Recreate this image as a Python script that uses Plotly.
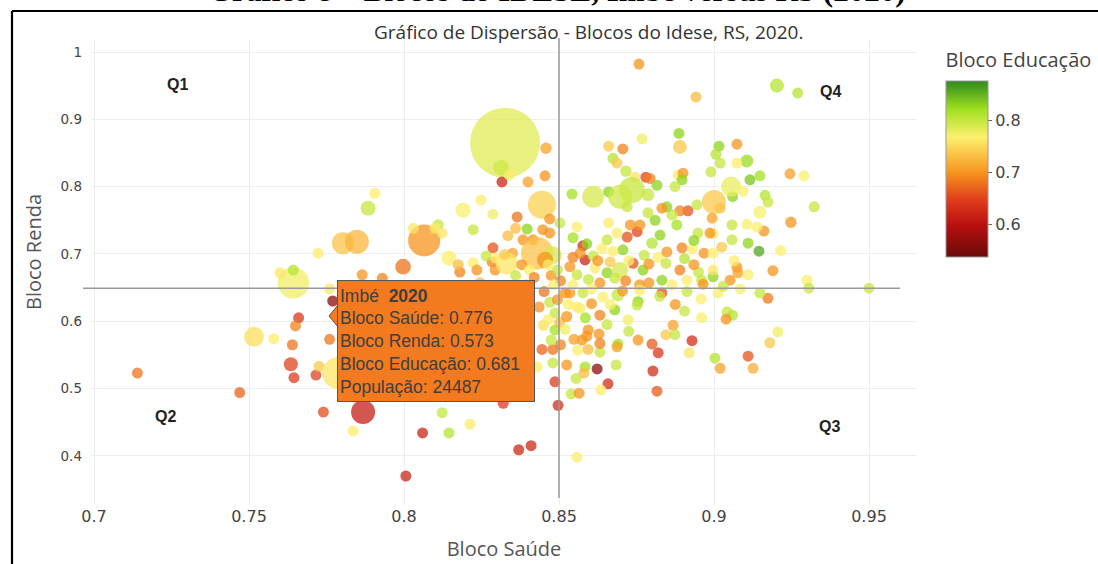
import plotly.graph_objects as go

# ---------------- data ----------------
saude = [
    0.714, 0.747, 0.7516, 0.758, 0.7643, 0.7643, 0.760, 0.766, 0.765, 0.764,
    0.7635, 0.7645, 0.7716, 0.7726, 0.774, 0.777, 0.776, 0.776, 0.7787, 0.7836,
    0.7868, 0.7865, 0.793, 0.7997, 0.806, 0.8006, 0.8123, 0.8145, 0.8213, 0.837,
    0.841, 0.832, 0.8487, 0.8497, 0.848, 0.8445, 0.843, 0.848, 0.845, 0.8436,
    0.8487, 0.8326, 0.8313, 0.8316, 0.834, 0.7906, 0.7884, 0.7803, 0.7848, 0.8065,
    0.7723, 0.8145, 0.819, 0.8248, 0.8287, 0.8223, 0.8365, 0.836, 0.8335, 0.8384,
    0.8397, 0.8445, 0.840, 0.811, 0.8123, 0.810, 0.803, 0.818, 0.8223, 0.8284,
    0.8294, 0.8287, 0.835, 0.8332, 0.8416, 0.8448, 0.843,
    0.8758, 0.8942, 0.9203, 0.927, 0.8887, 0.8768, 0.889, 0.8458, 0.866, 0.8706,
    0.9016, 0.9074, 0.9006, 0.902, 0.9106, 0.9074, 0.8674, 0.8687, 0.8716, 0.878,
    0.8794, 0.8745, 0.8884, 0.890, 0.8897, 0.899, 0.9116, 0.9148, 0.9245, 0.929,
    0.8455, 0.861, 0.866, 0.8542, 0.8735, 0.8697, 0.872, 0.8816, 0.8787, 0.8874,
    0.8945, 0.906, 0.9055, 0.9094, 0.900, 0.902, 0.8994, 0.9165, 0.9174, 0.9148,
    0.9323, 0.9248, 0.9161, 0.9106, 0.9139, 0.9058, 0.911, 0.9145, 0.9058, 0.8997,
    0.8987, 0.8897, 0.8948, 0.8968, 0.8997, 0.8916, 0.889, 0.8865, 0.8848, 0.8832,
    0.888, 0.881, 0.8787, 0.872, 0.8752, 0.873, 0.8761, 0.8687, 0.866, 0.8655,
    0.8706, 0.8674, 0.880, 0.8826, 0.882, 0.8848, 0.8739, 0.8771, 0.8577, 0.8584,
    0.859, 0.8568, 0.8545, 0.8558, 0.8503, 0.847, 0.847, 0.848, 0.8455, 0.8616,
    0.8655, 0.8697, 0.876, 0.879, 0.8832, 0.889, 0.8913, 0.895, 0.896, 0.8997,
    0.8997, 0.9074, 0.9077, 0.911, 0.9052, 0.930, 0.8632, 0.8558, 0.8535, 0.8545,
    0.950, 0.9306, 0.9174, 0.9148, 0.9013, 0.8958, 0.8913, 0.8832, 0.876, 0.869,
    0.8642, 0.8577, 0.8535, 0.852, 0.8452, 0.8755, 0.8752, 0.868, 0.8723, 0.8632,
    0.8558, 0.8568, 0.8487, 0.9042, 0.906, 0.9039, 0.9206, 0.918, 0.8868, 0.8845,
    0.8874, 0.8929, 0.880, 0.882, 0.892, 0.9003, 0.902, 0.911, 0.9126, 0.8803,
    0.8816, 0.869, 0.8632, 0.8629, 0.8632, 0.8687, 0.8684, 0.8623, 0.8658, 0.8635,
    0.8594, 0.859, 0.8574, 0.8548, 0.8594, 0.8584, 0.858, 0.8539, 0.8565, 0.8558,
    0.8265, 0.8295, 0.8325, 0.838, 0.8405, 0.8235, 0.8175, 0.8475, 0.8465, 0.8495,
    0.8505, 0.8482, 0.847, 0.8495, 0.8465, 0.8502, 0.8475, 0.8505, 0.8525, 0.853,
    0.852, 0.8545, 0.8595, 0.8605, 0.861, 0.8638, 0.8625, 0.8665, 0.868, 0.8715,
    0.8725, 0.8775, 0.879, 0.8845, 0.8865, 0.8905, 0.893, 0.8935, 0.8935, 0.8825,
    0.8875, 0.8705, 0.8665, 0.8585, 0.8605, 0.856, 0.8525, 0.8555, 0.8655, 0.8725,
    0.8755, 0.896, 0.8905, 0.8965, 0.903, 0.9085, 0.9065, 0.9025, 0.9215, 0.919,
    0.8245, 0.8395, 0.836, 0.842,
]
renda = [
    0.523, 0.494, 0.577, 0.574, 0.657, 0.676, 0.672, 0.605, 0.593, 0.565,
    0.536, 0.516, 0.520, 0.533, 0.465, 0.630, 0.573, 0.648, 0.523, 0.437,
    0.465, 0.669, 0.664, 0.681, 0.434, 0.370, 0.464, 0.434, 0.447, 0.409,
    0.415, 0.478, 0.510, 0.475, 0.558, 0.558, 0.532, 0.538, 0.594, 0.621,
    0.587, 0.865, 0.828, 0.807, 0.817, 0.790, 0.768, 0.716, 0.718, 0.720,
    0.701, 0.694, 0.765, 0.780, 0.759, 0.736, 0.755, 0.738, 0.727, 0.721,
    0.737, 0.773, 0.807, 0.743, 0.731, 0.738, 0.738, 0.673, 0.687, 0.688,
    0.676, 0.709, 0.701, 0.686, 0.721, 0.736, 0.701,
    0.982, 0.933, 0.950, 0.939, 0.879, 0.871, 0.859, 0.857, 0.860, 0.856,
    0.860, 0.863, 0.848, 0.835, 0.838, 0.835, 0.842, 0.835, 0.823, 0.814,
    0.812, 0.814, 0.817, 0.820, 0.810, 0.822, 0.810, 0.816, 0.819, 0.816,
    0.816, 0.785, 0.792, 0.789, 0.795, 0.785, 0.770, 0.802, 0.788, 0.800,
    0.773, 0.785, 0.800, 0.793, 0.777, 0.768, 0.753, 0.787, 0.777, 0.762,
    0.770, 0.747, 0.734, 0.744, 0.740, 0.743, 0.716, 0.704, 0.721, 0.730,
    0.731, 0.709, 0.731, 0.701, 0.701, 0.764, 0.764, 0.758, 0.770, 0.768,
    0.743, 0.750, 0.761, 0.725, 0.733, 0.743, 0.743, 0.731, 0.746, 0.721,
    0.706, 0.704, 0.716, 0.728, 0.695, 0.703, 0.686, 0.676, 0.712, 0.691,
    0.715, 0.701, 0.724, 0.740, 0.746, 0.752, 0.731, 0.698, 0.691, 0.679,
    0.672, 0.676, 0.654, 0.657, 0.661, 0.676, 0.661, 0.673, 0.661, 0.666,
    0.676, 0.680, 0.672, 0.669, 0.661, 0.661, 0.657, 0.669, 0.681, 0.695,
    0.649, 0.649, 0.634, 0.642, 0.642, 0.633, 0.644, 0.642, 0.646, 0.639,
    0.636, 0.642, 0.642, 0.642, 0.644, 0.629, 0.624, 0.617, 0.602, 0.609,
    0.621, 0.619, 0.612, 0.614, 0.609, 0.603, 0.584, 0.568, 0.594, 0.580,
    0.580, 0.571, 0.566, 0.553, 0.553, 0.545, 0.530, 0.548, 0.530, 0.526,
    0.496, 0.566, 0.554, 0.581, 0.567, 0.562, 0.535, 0.529, 0.507, 0.498,
    0.587, 0.578, 0.572, 0.573, 0.558, 0.532, 0.523, 0.492, 0.493, 0.398,
    0.697, 0.694, 0.699, 0.684, 0.676, 0.676, 0.684, 0.668, 0.684, 0.676,
    0.660, 0.654, 0.628, 0.632, 0.602, 0.598, 0.572, 0.565, 0.607, 0.625,
    0.588, 0.654, 0.662, 0.648, 0.697, 0.708, 0.690, 0.688, 0.664, 0.660,
    0.690, 0.698, 0.685, 0.686, 0.654, 0.693, 0.708, 0.684, 0.720, 0.637,
    0.625, 0.645, 0.625, 0.605, 0.626, 0.557, 0.535, 0.515, 0.595, 0.585,
    0.572, 0.605, 0.615, 0.655, 0.652, 0.648, 0.690, 0.710, 0.705, 0.675,
    0.657, 0.655, 0.668, 0.665,
]
educacao = [
    0.68, 0.67, 0.755, 0.77, 0.775, 0.81, 0.76, 0.64, 0.69, 0.68,
    0.65, 0.645, 0.65, 0.74, 0.655, 0.56, 0.681, 0.76, 0.76, 0.765,
    0.615, 0.70, 0.69, 0.68, 0.62, 0.62, 0.80, 0.81, 0.765, 0.625,
    0.625, 0.645, 0.645, 0.63, 0.68, 0.67, 0.77, 0.80, 0.755, 0.70,
    0.82, 0.785, 0.795, 0.62, 0.765, 0.765, 0.80, 0.735, 0.725, 0.70,
    0.765, 0.765, 0.77, 0.765, 0.775, 0.80, 0.68, 0.73, 0.73, 0.70,
    0.83, 0.745, 0.71, 0.80, 0.76, 0.765, 0.76, 0.69, 0.765, 0.69,
    0.70, 0.66, 0.71, 0.76, 0.70, 0.70, 0.735,
    0.70, 0.73, 0.81, 0.81, 0.83, 0.775, 0.74, 0.71, 0.74, 0.69,
    0.83, 0.70, 0.81, 0.80, 0.825, 0.765, 0.81, 0.74, 0.80, 0.65,
    0.69, 0.76, 0.765, 0.70, 0.83, 0.80, 0.84, 0.82, 0.71, 0.77,
    0.70, 0.79, 0.83, 0.82, 0.80, 0.795, 0.80, 0.83, 0.80, 0.80,
    0.80, 0.83, 0.78, 0.77, 0.74, 0.735, 0.71, 0.81, 0.80, 0.77,
    0.80, 0.70, 0.70, 0.77, 0.77, 0.80, 0.83, 0.86, 0.80, 0.765,
    0.70, 0.69, 0.80, 0.70, 0.765, 0.66, 0.69, 0.80, 0.83, 0.70,
    0.82, 0.83, 0.80, 0.66, 0.65, 0.70, 0.70, 0.765, 0.765, 0.80,
    0.83, 0.765, 0.81, 0.83, 0.765, 0.70, 0.66, 0.83, 0.63, 0.62,
    0.83, 0.70, 0.82, 0.765, 0.80, 0.70, 0.70, 0.79, 0.70, 0.765,
    0.83, 0.79, 0.70, 0.70, 0.83, 0.69, 0.765, 0.80, 0.80, 0.83,
    0.76, 0.70, 0.71, 0.765, 0.70, 0.77, 0.70, 0.80, 0.70, 0.69,
    0.80, 0.80, 0.685, 0.80, 0.77, 0.765, 0.80, 0.66, 0.77, 0.80,
    0.765, 0.80, 0.70, 0.70, 0.68, 0.83, 0.80, 0.83, 0.775, 0.69,
    0.765, 0.765, 0.80, 0.80, 0.81, 0.70, 0.775, 0.74, 0.71, 0.74,
    0.80, 0.63, 0.665, 0.64, 0.76, 0.81, 0.71, 0.66, 0.72, 0.63,
    0.665, 0.82, 0.80, 0.70, 0.69, 0.71, 0.80, 0.56, 0.63, 0.765,
    0.70, 0.70, 0.70, 0.71, 0.73, 0.82, 0.73, 0.80, 0.70, 0.77,
    0.80, 0.765, 0.74, 0.70, 0.77, 0.70, 0.73, 0.70, 0.77, 0.80,
    0.69, 0.77, 0.80, 0.70, 0.765, 0.73, 0.80, 0.69, 0.70, 0.765,
    0.775, 0.77, 0.80, 0.765, 0.80, 0.765, 0.70, 0.74, 0.80, 0.69,
    0.765, 0.80, 0.70, 0.80, 0.765, 0.81, 0.765, 0.70, 0.83, 0.80,
    0.70, 0.70, 0.77, 0.82, 0.70, 0.765, 0.70, 0.80, 0.80, 0.80,
    0.70, 0.77, 0.80, 0.70, 0.80, 0.77, 0.765, 0.74, 0.77, 0.70,
    0.73, 0.77, 0.80, 0.69,
]
populacao = [
    5000, 5000, 120000, 5000, 300000, 5000, 5000, 5000, 5000, 5000,
    60000, 5000, 5000, 5000, 5000, 5000, 24487, 5000, 300000, 5000,
    175000, 5000, 5000, 75000, 5000, 5000, 5000, 5000, 5000, 5000,
    5000, 5000, 5000, 5000, 5000, 5000, 5000, 5000, 5000, 5000,
    5000, 1488252, 75000, 5000, 5000, 5000, 68000, 147000, 175000, 313000,
    5000, 68000, 68000, 5000, 5000, 5000, 5000, 5000, 5000, 5000,
    5000, 238000, 5000, 40000, 5000, 5000, 5000, 5000, 5000, 5000,
    5000, 5000, 5000, 150000, 5000, 5000, 320000,
    5000, 5000, 60000, 5000, 5000, 5000, 60000, 40000, 5000, 5000,
    5000, 5000, 5000, 5000, 50000, 5000, 5000, 5000, 40000, 5000,
    5000, 5000, 5000, 5000, 5000, 5000, 5000, 5000, 5000, 5000,
    5000, 146000, 5000, 5000, 205000, 175000, 5000, 5000, 50000, 5000,
    5000, 5000, 121000, 5000, 175000, 5000, 5000, 5000, 5000, 50000,
    5000, 40000, 5000, 5000, 5000, 5000, 5000, 5000, 5000, 5000,
    5000, 5000, 5000, 5000, 5000, 5000, 5000, 40000, 5000, 5000,
    5000, 5000, 5000, 5000, 5000, 5000, 5000, 5000, 5000, 5000,
    5000, 5000, 40000, 5000, 5000, 5000, 5000, 5000, 5000, 5000,
    5000, 5000, 5000, 5000, 5000, 5000, 5000, 100000, 80000, 5000,
    5000, 80000, 5000, 5000, 5000, 5000, 5000, 5000, 5000, 5000,
    5000, 5000, 5000, 5000, 5000, 5000, 5000, 5000, 5000, 5000,
    5000, 5000, 5000, 5000, 5000, 5000, 5000, 5000, 5000, 50000,
    5000, 5000, 5000, 5000, 5000, 5000, 5000, 5000, 5000, 5000,
    5000, 5000, 5000, 5000, 5000, 5000, 5000, 5000, 5000, 5000,
    5000, 5000, 5000, 5000, 5000, 5000, 5000, 5000, 5000, 5000,
    5000, 5000, 5000, 5000, 5000, 5000, 5000, 5000, 5000, 5000,
    5000, 5000, 5000, 5000, 5000, 5000, 5000, 5000, 5000, 5000,
    5000, 5000, 5000, 5000, 5000, 5000, 5000, 5000, 5000, 5000,
    5000, 5000, 5000, 5000, 5000, 5000, 5000, 5000, 5000, 5000,
    5000, 5000, 5000, 5000, 5000, 5000, 5000, 5000, 5000, 5000,
    5000, 5000, 5000, 5000, 5000, 5000, 5000, 5000, 5000, 5000,
    5000, 5000, 5000, 5000, 5000, 5000, 5000, 5000, 5000, 5000,
    5000, 5000, 5000, 5000, 5000, 5000, 5000, 5000, 5000, 5000,
    5000, 5000, 5000, 5000,
]

media_rs_saude = 0.85
media_rs_renda = 0.649

xticks = [0.7, 0.75, 0.8, 0.85, 0.9, 0.95]
xtick_text = ["0.7", "0.75", "0.8", "0.85", "0.9", "0.95"]
yticks = [0.4, 0.5, 0.6, 0.7, 0.8, 0.9, 1.0]
ytick_text = ["0.4", "0.5", "0.6", "0.7", "0.8", "0.9", "1"]
cbar_ticks = [0.6, 0.7, 0.8]
cbar_text = ["0.6", "0.7", "0.8"]

quadrantes = ["Q1", "Q2", "Q3", "Q4"]
quad_x = [0.7268, 0.7232, 0.9371, 0.9377]
quad_y = [0.952, 0.459, 0.443, 0.942]

# ---------------- layout geometry ----------------
W, H = 1098, 564
L, R, T, B = 91, 181, 40, 59
PW, PH = W - L - R, H - T - B


def px(xp):
    return (xp - L) / PW


def py(yp):
    return (H - B - yp) / PH


colorscale = [
    [0.0, "#6B0A0A"],
    [0.18, "#B80F0F"],
    [0.32, "#DE3C1C"],
    [0.48, "#F7941E"],
    [0.68, "#FDF06E"],
    [0.84, "#9FE01E"],
    [1.0, "#2D8A1E"],
]

max_diam = 70
sizeref = max(populacao) / (2 * (max_diam / 2) ** 2)

fig = go.Figure()
fig.add_trace(go.Scatter(
    x=saude, y=renda, mode="markers",
    marker=dict(
        size=populacao, sizemode="area", sizeref=sizeref, sizemin=5.5,
        color=educacao, cmin=0.537, cmax=0.877, colorscale=colorscale,
        opacity=0.75, line=dict(width=0),
        colorbar=dict(
            title=dict(text="Bloco Educação", side="top",
                       font=dict(family="Open Sans", size=20, color="#444")),
            x=px(946), xanchor="left", xpad=0,
            y=py(153), yanchor="middle", ypad=0,
            len=208 / PH, lenmode="fraction",
            thickness=42, thicknessmode="pixels",
            outlinewidth=1, outlinecolor="#999",
            ticks="outside", ticklen=4, tickcolor="#666",
            tickvals=cbar_ticks, ticktext=cbar_text,
            tickfont=dict(family="DejaVu Sans", size=16, color="#444"),
        ),
    ),
    hoverinfo="skip", showlegend=False,
))

x_lo = 0.7 + (L - 94) / 3100
x_hi = 0.7 + (W - R - 94) / 3100
y_hi = 1 + (52 - T) / 673
y_lo = 1 - (H - B - 52) / 673

fig.update_xaxes(
    range=[x_lo, x_hi], tickvals=xticks, ticktext=xtick_text,
    showgrid=True, gridcolor="#EEEEEE", gridwidth=1, zeroline=False, showline=False,
    tickfont=dict(family="DejaVu Sans", size=16, color="#444"),
    title=dict(text="Bloco Saúde", font=dict(family="Open Sans", size=20, color="#555"), standoff=16),
)
fig.update_yaxes(
    range=[y_lo, y_hi], tickvals=yticks, ticktext=ytick_text,
    showgrid=True, gridcolor="#EEEEEE", gridwidth=1, zeroline=False, showline=False,
    tickfont=dict(family="DejaVu Sans", size=13.5, color="#444"),
    ticklabelstandoff=8,
)

shapes = [
    # reference lines (RS averages)
    dict(type="line", xref="paper", yref="y", x0=px(83), x1=px(900),
         y0=media_rs_renda, y1=media_rs_renda, line=dict(color="#999", width=1.5)),
    dict(type="line", xref="x", yref="paper", x0=media_rs_saude, x1=media_rs_saude,
         y0=py(498), y1=py(38), line=dict(color="#999", width=1.5)),
    # page frame
    dict(type="line", xref="paper", yref="paper", x0=px(12), x1=px(12),
         y0=py(11), y1=py(H + 10), line=dict(color="black", width=2.2)),
    dict(type="line", xref="paper", yref="paper", x0=px(12), x1=px(W + 10),
         y0=py(11), y1=py(11), line=dict(color="black", width=2.2)),
    # tooltip pointer
    dict(type="path", xref="paper", yref="paper",
         path=f"M {px(338)},{py(305)} L {px(329)},{py(316)} L {px(338)},{py(327)} Z",
         fillcolor="#F37A1F", line=dict(color="#555", width=1), layer="above"),
]

annotations = [
    dict(text="<b>Gráfico 8 – Blocos do IDESE, Imbé versus RS (2020)</b>", xref="paper", yref="paper",
         x=px(557), y=py(-9), xanchor="center", yanchor="middle", showarrow=False,
         font=dict(family="Liberation Serif", size=31, color="black")),
    dict(text="Gráfico de Dispersão - Blocos do Idese, RS, 2020.", xref="paper", yref="paper",
         x=px(588), y=py(32), xanchor="center", yanchor="middle", showarrow=False,
         font=dict(family="Open Sans", size=19, color="#333")),
    dict(text="Bloco Renda", xref="paper", yref="paper", x=px(33), y=py(252),
         xanchor="center", yanchor="middle", textangle=-90, showarrow=False,
         font=dict(family="Open Sans", size=20, color="#555")),
    dict(text="Imbé  <b>2020</b><br>Bloco Saúde: 0.776<br>Bloco Renda: 0.573<br>"
              "Bloco Educação: 0.681<br>População: 24487",
         xref="paper", yref="paper", x=px(337), y=py(280), xanchor="left", yanchor="top",
         align="left", showarrow=False, width=192, height=116,
         bgcolor="#F37A1F", bordercolor="#555", borderwidth=1, borderpad=2,
         font=dict(family="Liberation Sans", size=17.5, color="#3F3F3F")),
]
for q, qx, qy in zip(quadrantes, quad_x, quad_y):
    annotations.append(dict(text=f"<b>{q}</b>", x=qx, y=qy, xref="x", yref="y",
                            showarrow=False, font=dict(family="Liberation Sans", size=16, color="#222")))

fig.update_layout(
    width=W, height=H,
    margin=dict(l=L, r=R, t=T, b=B, autoexpand=False),
    paper_bgcolor="white", plot_bgcolor="white",
    shapes=shapes, annotations=annotations,
)

fig.write_html("out.html", config={"displayModeBar": False},
               post_script="document.body.style.margin='0px';")
